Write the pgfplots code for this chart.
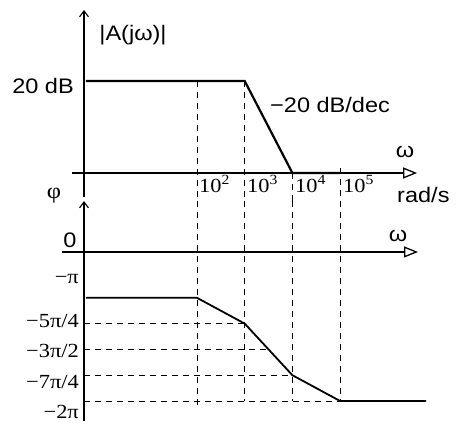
\documentclass[border=0pt]{standalone}
\usepackage{pgfplots}
\pgfplotsset{compat=1.18}
\usetikzlibrary{arrows.meta}
\usepackage{fontspec}
\setmainfont{Liberation Sans}
\newfontfamily\serif{Liberation Serif}
\def\XMIN{0.4276}
\def\XMAX{7.674e6}
\tikzset{
  refdash/.style={black, line width=0.9pt, dash pattern=on 6pt off 5pt},
  curve/.style={black, line width=2.2pt},
  axline/.style={black, line width=1.3pt},
  xarrow/.style={-{Triangle[open,length=14pt,width=11pt,line width=1.3pt]}},
  yarrow/.style={-{Straight Barb[length=6pt,width=9pt,line width=1.1pt]}},
  lab/.style={inner sep=0pt, xscale=1.12},
}
\begin{document}
\begin{tikzpicture}[x=1pt,y=1pt]
\useasboundingbox (0pt,0pt) rectangle (461pt,-423pt);
% ---------------- magnitude ----------------
\begin{axis}[at={(84pt,-201pt)}, anchor=south west, scale only axis,
  width=346pt, height=191pt, xmode=log, xmin=\XMIN, xmax=\XMAX,
  ymin=-6.087, ymax=35.43, axis lines=none, clip=false]
  \addplot[refdash] coordinates {(1e2,20) (1e2,-6.087)};
  \addplot[refdash] coordinates {(1e3,20) (1e3,-6.087)};
  \addplot[refdash] coordinates {(1e4,0) (1e4,-6.087)};
  \addplot[refdash] coordinates {(1e5,1) (1e5,-6.087)};
  \draw[axline,yarrow] (axis cs:\XMIN,-5.2) -- (axis cs:\XMIN,35.43);
  \draw[axline,xarrow] (axis cs:0.2388,0) -- (axis cs:4.12e6,0);
  \addplot[curve] coordinates {(0.469,20) (1e3,20) (1e4,0) (1e5,0)};
\end{axis}
% ---------------- phase (degrees) ----------------
\begin{axis}[at={(84pt,-421pt)}, anchor=south west, scale only axis,
  width=346pt, height=220pt, xmode=log, xmin=\XMIN, xmax=\XMAX,
  ymin=-394.9, ymax=-11.1, axis lines=none, clip=false]
  \addplot[refdash] coordinates {(1e2,-11.1) (1e2,-372)};
  \addplot[refdash] coordinates {(1e3,-11.1) (1e3,-360)};
  \addplot[refdash] coordinates {(1e4,-11.1) (1e4,-360)};
  \addplot[refdash] coordinates {(1e5,-11.1) (1e5,-360)};
  \addplot[refdash] coordinates {(\XMIN,-225) (1e3,-225)};
  \addplot[refdash] coordinates {(\XMIN,-270) (3162,-270)};
  \addplot[refdash] coordinates {(\XMIN,-315) (1e4,-315)};
  \addplot[refdash] coordinates {(\XMIN,-360) (1e5,-360)};
  \draw[axline,yarrow] (axis cs:\XMIN,-394.9) -- (axis cs:\XMIN,-11.1);
  \draw[axline,xarrow] (axis cs:0.1473,-100) -- (axis cs:4.3e6,-100);
  \addplot[curve, line width=1.8pt] coordinates {(0.469,-180) (1e2,-180) (1e3,-225) (1e4,-315) (1e5,-360) (6.37e6,-360)};
\end{axis}
% ---------------- text ----------------
\fontsize{21}{25}\selectfont
\node[lab, anchor=center] at (133pt,-35pt) {|A(jω)|};
\node[lab, anchor=base east] at (74pt,-93pt) {20 dB};
\node[lab, anchor=base west] at (270pt,-112pt) {−20 dB/dec};
\node[lab, anchor=base] at (405pt,-157pt) {ω};
\node[lab, anchor=base west] at (397pt,-202pt) {rad/s};
\node[lab, anchor=center] at (398pt,-236pt) {ω};
\node[lab, anchor=center] at (70pt,-240pt) {0};
\node[lab, anchor=center] at (54pt,-196pt) {\serif\fontsize{22}{26}\selectfont φ};
\begin{scope}[font=\serif\fontsize{20}{24}\selectfont]
\node[lab, anchor=base west] at (199pt,-192pt) {10\textsuperscript{2}};
\node[lab, anchor=base west] at (247pt,-192pt) {10\textsuperscript{3}};
\node[lab, anchor=base west] at (295pt,-192pt) {10\textsuperscript{4}};
\node[lab, anchor=base west] at (343pt,-192pt) {10\textsuperscript{5}};
\node[lab, anchor=east] at (79pt,-279pt) {−π};
\node[lab, anchor=east] at (79pt,-321pt) {−5π/4};
\node[lab, anchor=east] at (79pt,-351pt) {−3π/2};
\node[lab, anchor=east] at (79pt,-382pt) {−7π/4};
\node[lab, anchor=east] at (79pt,-412pt) {−2π};
\end{scope}
\end{tikzpicture}
\end{document}
